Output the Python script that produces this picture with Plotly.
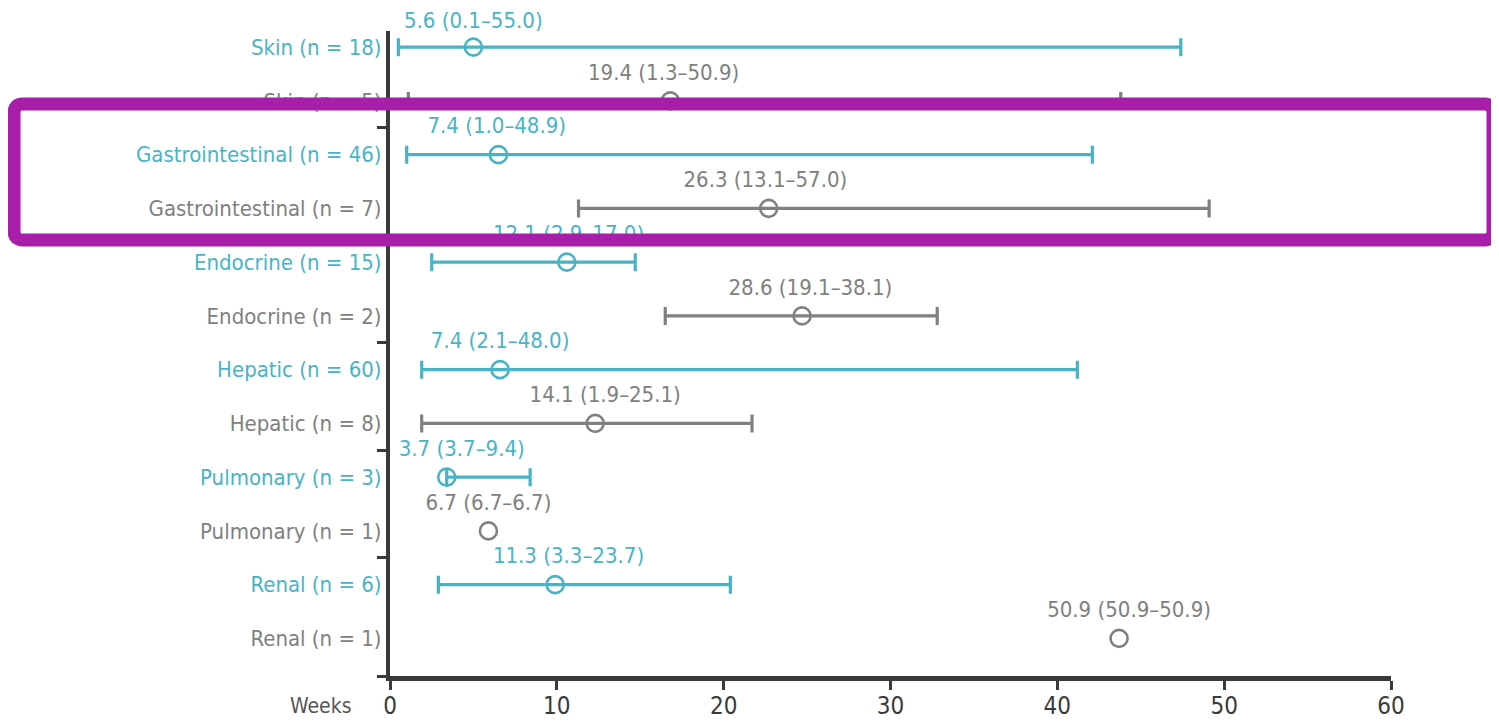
import plotly.graph_objects as go

# ---------------- data ----------------
row_labels = ["Skin (n = 18)", "Skin (n = 5)",
              "Gastrointestinal (n = 46)", "Gastrointestinal (n = 7)",
              "Endocrine (n = 15)", "Endocrine (n = 2)",
              "Hepatic (n = 60)", "Hepatic (n = 8)",
              "Pulmonary (n = 3)", "Pulmonary (n = 1)",
              "Renal (n = 6)", "Renal (n = 1)"]
row_group = ["a", "b", "a", "b", "a", "b", "a", "b", "a", "b", "a", "b"]

# numbers printed above each bar: median (min-max)
median_text = [5.6, 19.4, 7.4, 26.3, 12.1, 28.6, 7.4, 14.1, 3.7, 6.7, 11.3, 50.9]
low_text = [0.1, 1.3, 1.0, 13.1, 2.9, 19.1, 2.1, 1.9, 3.7, 6.7, 3.3, 50.9]
high_text = [55.0, 50.9, 48.9, 57.0, 17.0, 38.1, 48.0, 25.1, 9.4, 6.7, 23.7, 50.9]

# positions of the marks as drawn against the Weeks axis
median_pos = [5.0, 16.8, 6.5, 22.7, 10.6, 24.7, 6.6, 12.3, 3.4, 5.9, 9.9, 43.7]
low_pos = [0.5, 1.1, 1.0, 11.3, 2.5, 16.5, 1.9, 1.9, 3.4, None, 2.9, None]
high_pos = [47.4, 43.8, 42.1, 49.1, 14.7, 32.8, 41.2, 21.7, 8.4, None, 20.4, None]
# horizontal centre of each printed label, on the Weeks axis
label_pos = [5.0, 16.4, 6.4, 22.5, 10.7, 25.2, 6.6, 12.9, 4.3, 5.9, 10.7, 44.3]

x_ticks = [0, 10, 20, 30, 40, 50, 60]

# ---------------- styles ----------------
TEAL = "#47b4c6"
GRAY = "#808080"
AXIS = "#3a3a3a"
PURPLE = "#a71ea8"
FONT = "Liberation Sans Narrow, DejaVu Sans Condensed, Arial Narrow, Roboto, sans-serif"
colors = {"a": TEAL, "b": GRAY}
Y_MIN, Y_MAX = -0.7, 11.3
LABEL_DY = 0.5

n = len(row_labels)
row_y = [n - 1 - i for i in range(n)]


def label_of(i):
    return f"{median_text[i]:.1f} ({low_text[i]:.1f}\u2013{high_text[i]:.1f})"


fig = go.Figure()

for g in ["a", "b"]:
    # rows with a range: marker + horizontal bar with caps
    idx = [i for i in range(n) if row_group[i] == g and low_pos[i] is not None]
    fig.add_trace(go.Scatter(
        x=[median_pos[i] for i in idx], y=[row_y[i] for i in idx], mode="markers",
        marker=dict(symbol="circle-open", size=17, color=colors[g],
                    line=dict(width=2.6, color=colors[g])),
        error_x=dict(type="data", symmetric=False,
                     array=[high_pos[i] - median_pos[i] for i in idx],
                     arrayminus=[median_pos[i] - low_pos[i] for i in idx],
                     color=colors[g], thickness=3.2, width=9),
        showlegend=False, hoverinfo="skip", cliponaxis=False,
    ))
    # single-value rows: marker only
    idx1 = [i for i in range(n) if row_group[i] == g and low_pos[i] is None]
    if idx1:
        fig.add_trace(go.Scatter(
            x=[median_pos[i] for i in idx1], y=[row_y[i] for i in idx1], mode="markers",
            marker=dict(symbol="circle-open", size=17, color=colors[g],
                        line=dict(width=2.6, color=colors[g])),
            showlegend=False, hoverinfo="skip", cliponaxis=False,
        ))
    # printed labels that sit inside the y range (drawn under the highlight box)
    idx_t = [i for i in range(n) if row_group[i] == g and row_y[i] + LABEL_DY <= Y_MAX]
    fig.add_trace(go.Scatter(
        x=[label_pos[i] for i in idx_t], y=[row_y[i] + LABEL_DY for i in idx_t], mode="text",
        text=[label_of(i) for i in idx_t], textposition="middle center",
        textfont=dict(family=FONT, size=22, color=colors[g]),
        showlegend=False, hoverinfo="skip", cliponaxis=False,
    ))

# labels above the top of the y range (placed in paper units so they are not hidden)
for i in range(n):
    if row_y[i] + LABEL_DY > Y_MAX:
        fig.add_annotation(x=label_pos[i], xref="x",
                           y=(row_y[i] + LABEL_DY - Y_MIN) / (Y_MAX - Y_MIN), yref="paper",
                           xanchor="center", yanchor="middle",
                           text=label_of(i), showarrow=False,
                           font=dict(family=FONT, size=22, color=colors[row_group[i]]))

ticktext = [f'<span style="color:{colors[row_group[i]]}">{row_labels[i]}</span>' for i in range(n)]

fig.update_layout(
    width=1491, height=718,
    margin=dict(l=382, r=108, t=23, b=50),
    plot_bgcolor="white", paper_bgcolor="white",
    xaxis=dict(range=[0, 60], tickvals=x_ticks, ticktext=[str(v) for v in x_ticks],
               automargin=False,
               showgrid=False, zeroline=False, showline=True, linecolor=AXIS, linewidth=4.5,
               ticks="outside", ticklen=9, tickwidth=2.5, tickcolor=AXIS,
               ticklabelstandoff=-5,
               tickfont=dict(family=FONT, size=24, color="#3a3a3a")),
    yaxis=dict(range=[Y_MIN, Y_MAX], tickvals=row_y, ticktext=ticktext,
               automargin=False,
               showgrid=False, zeroline=False, showline=True, linecolor=AXIS, linewidth=4,
               ticks="", tickfont=dict(family=FONT, size=22),
               minor=dict(tickmode="array", tickvals=[Y_MIN, 1.5, 3.5, 5.5, 7.5, 9.5],
                          ticks="outside", ticklen=9, tickwidth=3, tickcolor=AXIS)),
    font=dict(family=FONT),
)

fig.add_annotation(text="Weeks", xref="paper", yref="paper", x=0, y=0,
                   xanchor="right", yanchor="top", xshift=-36, yshift=-16,
                   showarrow=False, font=dict(family=FONT, size=21, color="#555555"))

# highlight box (rounded rectangle) drawn over the chart, in paper units
x0, x1 = -0.3756, 1.1019
y0, y1 = 0.6760, 0.8868
rx, ry = 0.009, 0.014
path = (f"M {x0+rx},{y1} L {x1-rx},{y1} Q {x1},{y1} {x1},{y1-ry} "
        f"L {x1},{y0+ry} Q {x1},{y0} {x1-rx},{y0} L {x0+rx},{y0} "
        f"Q {x0},{y0} {x0},{y0+ry} L {x0},{y1-ry} Q {x0},{y1} {x0+rx},{y1} Z")
fig.add_shape(type="path", path=path, xref="paper", yref="paper",
              line=dict(color=PURPLE, width=13), fillcolor="rgba(0,0,0,0)", layer="above")

fig.write_html("out.html")
